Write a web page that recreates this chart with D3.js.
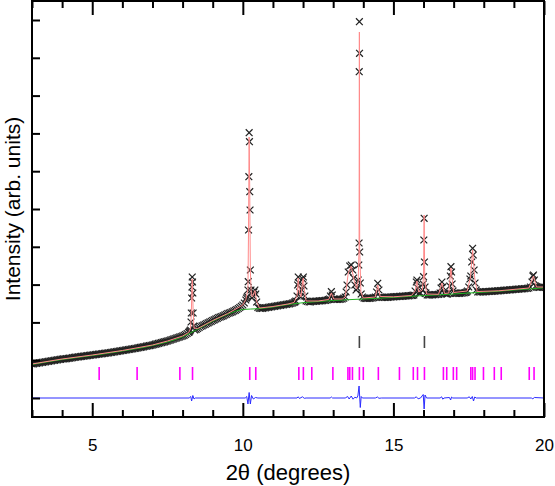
<!DOCTYPE html>
<html><head><meta charset="utf-8">
<script src="https://cdn.jsdelivr.net/npm/d3@7"></script>
<style>body{margin:0;background:#fff}svg{display:block}text{font-family:"Liberation Sans",Arial,sans-serif;fill:#000}</style>
</head><body><svg id="c" width="555" height="486"></svg>
<script>
// ---- data (2θ in degrees, intensity in arbitrary units) ----
const xMajorTicks = [5, 10, 15, 20];
const xMinorTicks = [3, 4, 6, 7, 8, 9, 11, 12, 13, 14, 16, 17, 18, 19];
const yTicks = [0, 378, 756, 1134, 1512, 1890, 2268, 2646, 3024, 3402, 3780];

const observed = [
[3.0,340],[3.1,345],[3.2,350],[3.3,355],[3.4,360],[3.5,365],[3.6,370],[3.7,375],[3.8,380],[3.9,385],
[4.0,390],[4.1,392],[4.2,396],[4.3,400],[4.4,406],[4.5,410],[4.6,414],[4.7,418],[4.8,422],[4.9,426],
[5.0,430],[5.1,434],[5.2,438],[5.3,442],[5.4,446],[5.5,450],[5.6,455],[5.7,460],[5.8,465],[5.9,470],
[6.0,475],[6.1,480],[6.2,485],[6.3,490],[6.4,495],[6.5,500],[6.6,506],[6.7,512],[6.8,518],[6.9,524],
[7.0,530],[7.1,538],[7.2,546],[7.3,554],[7.4,562],[7.5,570],[7.6,580],[7.7,590],[7.8,600],[7.9,610],
[8.0,620],[8.1,635],[8.2,655],
[8.26,680],[8.28,760],[8.29,850],[8.30,1000],[8.31,1110],[8.32,1210],[8.33,1160],[8.34,1050],[8.35,850],[8.37,720],
[8.4,680],[8.5,695],[8.6,715],[8.7,730],[8.8,745],[8.9,760],[9.0,775],[9.1,790],[9.2,805],[9.3,815],
[9.4,830],[9.5,845],[9.6,855],[9.7,870],[9.8,885],[9.9,905],[10.0,930],[10.1,980],
[10.12,1000],[10.15,1013],[10.17,1080],[10.18,1163],[10.19,1680],[10.20,2213],[10.21,2653],[10.22,2563],[10.23,2063],[10.24,1880],
[10.25,1280],[10.27,1080],[10.30,1000],[10.34,1020],[10.37,1060],[10.40,1080],[10.43,1040],[10.46,960],
[10.5,905],[10.6,895],[10.7,900],[10.8,905],[10.9,910],[11.0,915],[11.1,920],[11.2,925],[11.3,930],[11.4,935],
[11.5,940],[11.6,945],[11.7,955],
[11.76,970],[11.80,1020],[11.82,1130],[11.84,1210],[11.86,1150],[11.88,1060],[11.92,1010],[11.96,1080],[11.99,1190],[12.01,1210],
[12.03,1120],[12.06,1020],[12.10,970],
[12.2,960],[12.3,965],[12.4,968],[12.5,970],[12.6,972],[12.7,975],[12.8,980],
[12.88,990],[12.91,1020],[12.94,1063],[12.97,1030],[13.01,990],
[13.1,985],[13.2,987],[13.3,990],
[13.40,1010],[13.43,1060],[13.46,1130],[13.50,1260],[13.55,1320],[13.60,1330],[13.65,1280],[13.68,1200],[13.72,1130],[13.76,1080],
[13.80,1100],[13.83,1180],[13.85,1330],[13.86,1550],[13.865,3263],[13.87,3763],[13.875,3447],[13.88,1460],[13.90,1150],[13.93,1040],
[13.97,1010],[14.02,1000],[14.1,995],[14.2,997],[14.3,1000],
[14.40,1010],[14.44,1060],[14.48,1147],[14.52,1080],[14.57,1010],
[14.7,1005],[14.8,1007],[14.9,1010],[15.0,1012],[15.1,1014],[15.2,1016],[15.3,1018],[15.4,1020],[15.5,1022],[15.6,1025],
[15.68,1030],[15.72,1070],[15.76,1160],[15.78,1180],[15.81,1100],[15.85,1050],
[15.90,1050],[15.96,1080],[15.99,1140],[16.00,1213],[16.01,1580],[16.02,1797],[16.03,1360],[16.05,1110],[16.08,1050],[16.12,1030],
[16.2,1030],[16.3,1032],[16.4,1034],[16.5,1037],
[16.55,1050],[16.58,1100],[16.61,1160],[16.64,1110],[16.68,1050],[16.75,1040],[16.8,1040],
[16.84,1050],[16.87,1120],[16.89,1220],[16.91,1313],[16.93,1260],[16.95,1140],[16.98,1070],[17.03,1050],
[17.1,1045],[17.2,1047],[17.3,1050],[17.4,1055],
[17.46,1070],[17.50,1110],[17.54,1190],[17.57,1220],[17.60,1360],[17.63,1497],[17.65,1430],[17.68,1280],[17.71,1150],[17.75,1080],
[17.8,1060],[17.9,1060],[18.0,1062],[18.1,1064],[18.2,1066],[18.3,1068],[18.4,1070],[18.5,1072],[18.6,1075],[18.7,1078],
[18.8,1080],[18.9,1082],[19.0,1085],[19.1,1088],[19.2,1090],[19.3,1092],[19.4,1095],[19.5,1100],
[19.55,1110],[19.60,1160],[19.63,1220],[19.65,1230],[19.68,1180],[19.72,1120],
[19.8,1105],[19.9,1108],[20.0,1110],
// intermediate readings
[3.05,342],[3.15,347],[3.25,352],[3.35,357],[3.45,362],[3.55,367],[3.65,372],[3.75,377],[3.85,382],[3.95,387],
[4.05,391],[4.15,394],[4.25,398],[4.35,403],[4.45,408],[4.55,412],[4.65,416],[4.75,420],[4.85,424],[4.95,428],
[5.05,432],[5.15,436],[5.25,440],[5.35,444],[5.45,448],[5.55,452],[5.65,457],[5.75,462],[5.85,467],[5.95,472],
[6.05,477],[6.15,482],[6.25,487],[6.35,492],[6.45,497],[6.55,503],[6.65,509],[6.75,515],[6.85,521],[6.95,527],
[7.05,534],[7.15,542],[7.25,550],[7.35,558],[7.45,566],[7.55,575],[7.65,585],[7.75,595],[7.85,605],[7.95,615],
[8.05,627],[8.15,645],[8.22,662],[8.24,670],
[8.45,687],[8.55,705],[8.65,722],[8.75,737],[8.85,752],[8.95,767],[9.05,782],[9.15,797],[9.25,810],[9.35,822],
[9.45,837],[9.55,850],[9.65,862],[9.75,877],[9.85,895],[9.95,917],[10.05,950],
[10.55,898],[10.65,897],[10.75,902],[10.85,907],[10.95,912],[11.05,917],[11.15,922],[11.25,927],[11.35,932],[11.45,937],
[11.55,942],[11.65,950],[11.73,962],
[12.15,965],[12.25,962],[12.35,966],[12.45,969],[12.55,971],[12.65,973],[12.75,977],[12.84,985],
[13.05,987],[13.15,986],[13.25,988],[13.35,998],
[14.06,997],[14.15,996],[14.25,998],[14.35,1004],
[14.62,1007],[14.65,1006],[14.75,1006],[14.85,1008],[14.95,1011],[15.05,1013],[15.15,1015],[15.25,1017],[15.35,1019],[15.45,1021],
[15.55,1023],[15.64,1027],[15.875,1045],
[16.16,1030],[16.25,1031],[16.35,1033],[16.45,1035],[16.71,1045],[16.78,1040],
[17.06,1047],[17.15,1046],[17.25,1048],[17.35,1052],[17.43,1060],
[17.85,1060],[17.95,1061],[18.05,1063],[18.15,1065],[18.25,1067],[18.35,1069],[18.45,1071],[18.55,1073],[18.65,1076],[18.75,1079],
[18.85,1081],[18.95,1083],[19.05,1086],[19.15,1089],[19.25,1091],[19.35,1093],[19.45,1097],
[19.76,1112],[19.85,1106],[19.95,1109]
];

const calculated = [
[3,340],[4,390],[5,430],[6,475],[7,530],[7.5,570],[8,620],[8.2,655],[8.26,690],[8.29,840],[8.31,1120],[8.32,1190],[8.33,1130],
[8.35,860],[8.38,700],[8.5,695],[9,775],[9.5,845],[10,930],[10.1,985],[10.17,1090],[10.19,1700],[10.21,2610],[10.23,2050],
[10.25,1270],[10.28,1040],[10.32,1010],[10.4,1075],[10.46,965],[10.55,900],[11,915],[11.5,940],[11.7,955],[11.8,1020],
[11.84,1200],[11.88,1060],[11.93,1010],[11.99,1180],[12.01,1200],[12.04,1090],[12.1,970],[12.5,970],[12.85,985],[12.94,1050],
[13.02,990],[13.3,990],[13.4,1010],[13.5,1250],[13.6,1320],[13.7,1170],[13.78,1090],[13.83,1170],[13.86,1500],[13.87,3660],
[13.88,1500],[13.92,1060],[14,1000],[14.4,1010],[14.48,1130],[14.56,1015],[15,1012],[15.6,1025],[15.72,1070],[15.78,1170],
[15.84,1060],[15.96,1080],[16.0,1220],[16.02,1830],[16.04,1200],[16.1,1040],[16.5,1037],[16.61,1150],[16.7,1045],[16.84,1050],
[16.91,1300],[17.0,1055],[17.45,1070],[17.56,1210],[17.63,1480],[17.7,1200],[17.78,1065],[18.5,1072],[19.5,1100],[19.65,1220],
[19.75,1110],[20,1110]
];

const background = [
[3,335],[4,385],[5,425],[6,470],[7,525],[8,612],[8.5,688],[9,768],[9.5,838],[10,885],[10.5,893],[11,910],[11.5,935],[12,953],
[12.5,965],[13,975],[13.5,983],[14,990],[14.5,998],[15,1006],[15.5,1016],[16,1024],[16.5,1032],[17,1040],[17.5,1050],[18,1058],
[18.5,1068],[19,1080],[19.5,1090],[20,1102]
];

const difference = [
[3,0],[8.22,0],[8.27,15],[8.3,-30],[8.34,25],[8.38,-10],[8.42,0],
[10.08,0],[10.13,15],[10.17,-60],[10.21,55],[10.25,-60],[10.29,25],[10.35,-10],[10.42,5],[10.5,0],
[11.8,0],[11.84,12],[11.88,-5],[11.98,12],[12.04,-3],[12.1,0],
[12.9,0],[12.94,10],[12.98,0],
[13.4,0],[13.48,15],[13.53,-10],[13.6,20],[13.66,-12],[13.72,8],[13.78,0],[13.82,20],[13.86,120],[13.9,-95],[13.93,15],[13.97,0],
[14.4,0],[14.47,10],[14.52,-3],[14.6,0],
[15.7,0],[15.76,12],[15.82,-8],[15.9,0],[15.95,20],[15.99,35],[16.02,-110],[16.05,30],[16.1,0],
[16.55,0],[16.6,12],[16.64,-12],[16.68,0],[16.86,5],[16.9,-20],[16.93,10],[16.97,0],
[17.45,0],[17.52,12],[17.57,-10],[17.62,15],[17.66,-30],[17.7,10],[17.75,0],
[19.58,0],[19.63,-8],[19.68,5],[20,0]
];

const braggPhase1 = [5.23,6.49,7.91,8.33,10.23,10.43,11.86,12.01,12.29,12.99,13.49,13.55,13.64,13.87,14.0,14.5,15.2,15.66,15.8,
16.03,16.66,16.77,16.99,17.1,17.57,17.63,17.71,17.99,18.35,18.58,19.51,19.67];
const braggPhase2 = [13.87, 16.03];

// ---- layout ----
const L = 32, R = 544, T = 1, B = 417;
const svg = d3.select("#c");

const x = d3.scaleLinear().domain([3, 20]).range([L, R]);
const y = d3.scaleLinear().domain([-190, 3970]).range([B, T]);

svg.append("defs").append("clipPath").attr("id","clip").append("rect")
  .attr("x", L).attr("y", T).attr("width", R - L).attr("height", B - T);
const plot = svg.append("g").attr("clip-path","url(#clip)");

// observed crosses
const s = 3.4;
plot.append("g").selectAll("path").data(observed).join("path")
  .attr("d", d => { const cx = x(d[0]), cy = y(d[1]);
    return `M${cx-s},${cy-s}L${cx+s},${cy+s}M${cx-s},${cy+s}L${cx+s},${cy-s}`; })
  .attr("stroke", "#222").attr("stroke-width", 1.25).attr("fill", "none");

const line = d3.line().x(d => x(d[0])).y(d => y(d[1]));
plot.append("path").attr("d", d3.line().x(d => x(d[0])).y(d => y(d[1])).curve(d3.curveMonotoneX)(background))
  .attr("fill","none").attr("stroke","#22b022").attr("stroke-width",1);
plot.append("path").attr("d", line(calculated))
  .attr("fill","none").attr("stroke","#ff8a8a").attr("stroke-width",1);
plot.append("path").attr("d", line(difference))
  .attr("fill","none").attr("stroke","#2a2aff").attr("stroke-width",1);

// Bragg reflection markers
const row1 = [310, 180], row2 = [620, 500];
plot.append("g").selectAll("line").data(braggPhase1).join("line")
  .attr("x1", d => x(d)).attr("x2", d => x(d)).attr("y1", y(row1[0])).attr("y2", y(row1[1]))
  .attr("stroke", "#ff00ff").attr("stroke-width", 1.6);
plot.append("g").selectAll("line").data(braggPhase2).join("line")
  .attr("x1", d => x(d)).attr("x2", d => x(d)).attr("y1", y(row2[0])).attr("y2", y(row2[1]))
  .attr("stroke", "#444").attr("stroke-width", 1.6);

// axes
function styleAxis(g){ g.select(".domain").remove(); g.selectAll("line").attr("stroke","#000").attr("stroke-width",2); }
svg.append("g").attr("transform",`translate(0,${B})`)
  .call(d3.axisBottom(x).tickValues(xMajorTicks).tickSize(-14).tickFormat(d3.format("d")).tickPadding(22))
  .call(styleAxis)
  .call(g => g.selectAll("text").attr("font-size", 17).attr("font-family","Liberation Sans, Arial, sans-serif").attr("fill","#000"));
svg.append("g").attr("transform",`translate(0,${B})`)
  .call(d3.axisBottom(x).tickValues(xMinorTicks).tickSize(-7).tickFormat(""))
  .call(styleAxis);
svg.append("g").attr("transform",`translate(0,${T})`)
  .call(d3.axisTop(x).tickValues(xMajorTicks).tickSize(-14).tickFormat(""))
  .call(styleAxis);
svg.append("g").attr("transform",`translate(0,${T})`)
  .call(d3.axisTop(x).tickValues(xMinorTicks).tickSize(-7).tickFormat(""))
  .call(styleAxis);
svg.append("g").attr("transform",`translate(${L},0)`)
  .call(d3.axisLeft(y).tickValues(yTicks).tickSize(-8).tickFormat(""))
  .call(styleAxis);

// frame
svg.append("rect").attr("x", L).attr("y", T).attr("width", R - L).attr("height", B - T)
  .attr("fill","none").attr("stroke","#000").attr("stroke-width",2);

// titles
svg.append("text").attr("x", (L + R) / 2).attr("y", 480).attr("text-anchor","middle")
  .attr("font-size", 22).text("2θ (degrees)");
svg.append("text").attr("transform", `translate(20,${(T + B) / 2}) rotate(-90)`).attr("text-anchor","middle")
  .attr("font-size", 21).text("Intensity (arb. units)");
</script></body></html>
